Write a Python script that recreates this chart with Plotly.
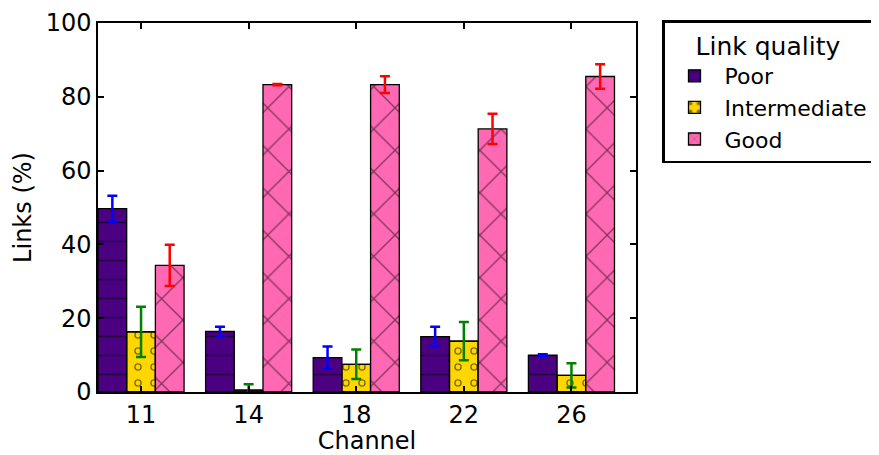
import plotly.graph_objects as go

channels = ["11", "14", "18", "22", "26"]
series_names = ["Poor", "Intermediate", "Good"]

poor = [49.7, 16.4, 9.3, 15.0, 10.0]
poor_err = [3.5, 1.3, 3.0, 2.7, 0.2]
intermediate = [16.3, 0.5, 7.5, 13.8, 4.5]
intermediate_err = [6.8, 1.6, 4.0, 5.2, 3.3]
good = [34.3, 83.3, 83.3, 71.3, 85.5]
good_err = [5.6, 0.2, 2.3, 4.1, 3.3]

xpos = list(range(len(channels)))
bar_w = 0.8 / 3
FONT = "DejaVu Sans"

fig = go.Figure()

def add_bar(name, vals, errs, color, errcolor, idx, pattern, showlegend=True, show_err=True,
            marker_color=None):
    fig.add_trace(go.Bar(
        x=xpos, y=vals, name=name,
        width=bar_w, offset=-0.4 + idx * bar_w,
        marker=dict(color=marker_color if marker_color else color,
                    line=dict(color="black", width=1.3),
                    pattern=pattern),
        error_y=dict(type="data", array=errs, visible=show_err, color=errcolor,
                     thickness=2.5, width=5),
        showlegend=showlegend,
    ))

add_bar("Poor", poor, poor_err, "#4B0082", "blue", 0,
        dict(shape="-", fgcolor="black", size=19, solidity=0.08, fillmode="overlay"))
add_bar("Intermediate", intermediate, intermediate_err, "#FFD700", "green", 1,
        dict(shape=".", fgcolor="black", size=16, solidity=0.17, fillmode="overlay"),
        show_err=False)
add_bar("Intermediate", intermediate, intermediate_err, "#FFD700", "green", 1,
        dict(shape=".", fgcolor="#FFD700", bgcolor="rgba(0,0,0,0)", size=16,
             solidity=0.07, fillmode="replace"),
        showlegend=False, marker_color="rgba(0,0,0,0)")
add_bar("Good", good, good_err, "#FF69B4", "red", 2,
        dict(shape="x", fgcolor="black", size=30, solidity=0.08, fillmode="overlay"))

axis_common = dict(showline=True, linecolor="black", linewidth=1.5, mirror="ticks",
                   ticks="inside", ticklen=6, tickwidth=1.5, tickcolor="black",
                   showgrid=False, zeroline=False, automargin=False,
                   tickfont=dict(family=FONT, size=24, color="black"))

# page body adds an 8px offset; figure is sized to fit the remaining window
fig.update_layout(
    width=871, height=447,
    margin=dict(l=90, r=243, t=15, b=63),
    paper_bgcolor="white", plot_bgcolor="white",
    barmode="overlay",
    font=dict(family=FONT, size=24, color="black"),
    xaxis=dict(tickvals=xpos, ticktext=channels, range=[-0.4, 4.6],
               title=dict(text="Channel", font=dict(family=FONT, size=24), standoff=0),
               **axis_common),
    yaxis=dict(range=[0, 100], tickvals=[0, 20, 40, 60, 80, 100],
               title=dict(text="Links (%)", font=dict(family=FONT, size=24), standoff=7),
               **axis_common),
    legend=dict(xref="container", yref="container", x=654 / 871, y=1 - 12 / 447,
                xanchor="left", yanchor="top", itemwidth=50,
                bordercolor="black", borderwidth=2.5, bgcolor="white",
                title=dict(text="Link quality", side="top center",
                           font=dict(family=FONT, size=25)),
                font=dict(family=FONT, size=22)),
)

fig.write_html("out.html")
